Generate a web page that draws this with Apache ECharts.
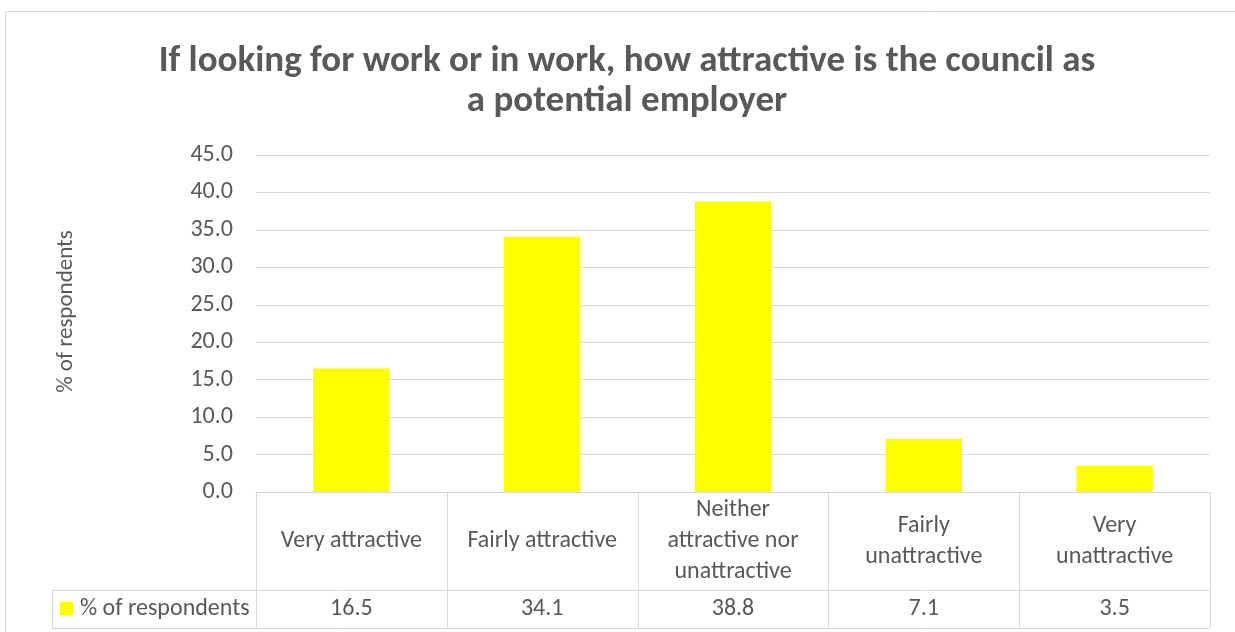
<!DOCTYPE html>
<html>
<head>
<meta charset="utf-8">
<script src="https://cdn.jsdelivr.net/npm/echarts@6/dist/echarts.min.js"></script>
<style>
  html, body { margin: 0; padding: 0; background: #ffffff; }
  #chart { width: 1235px; height: 632px; }
</style>
</head>
<body>
<div id="chart"></div>
<script>
// Survey answers and share of respondents for each
const categories = [
  'Very attractive',
  'Fairly attractive',
  'Neither\nattractive nor\nunattractive',
  'Fairly\nunattractive',
  'Very\nunattractive'
];
const respondents = [16.5, 34.1, 38.8, 7.1, 3.5];
const seriesName = '% of respondents';
const titleText = 'If looking for work or in work, how attractive is the council as\na potential employer';
const yTicks = { min: 0, max: 45, interval: 5 };

const FONT = "Carlito, 'Open Sans', 'Noto Sans', sans-serif";
const TEXT = '#595959';
const LINE = '#d9d9d9';
const BAR = '#ffff00';

const chart = echarts.init(document.getElementById('chart'), null, { renderer: 'canvas' });

const option = {
  animation: false,
  backgroundColor: '#ffffff',
  title: {
    text: titleText,
    left: 622,
    top: 37,
    textAlign: 'center',
    textStyle: {
      fontFamily: FONT,
      fontWeight: 'bold',
      fontSize: 37,
      lineHeight: 40,
      color: TEXT
    }
  },
  grid: { left: 256, right: 25, top: 155, bottom: 140, containLabel: false },
  xAxis: {
    type: 'category',
    data: categories,
    axisLine: { show: true, lineStyle: { color: LINE, width: 1 } },
    axisTick: { show: false },
    axisLabel: {
      interval: 0,
      margin: 49,
      verticalAlign: 'middle',
      fontFamily: FONT,
      fontSize: 24,
      lineHeight: 31,
      color: TEXT
    }
  },
  yAxis: {
    type: 'value',
    min: yTicks.min,
    max: yTicks.max,
    interval: yTicks.interval,
    name: seriesName,
    nameLocation: 'middle',
    nameGap: 178,
    nameRotate: 90,
    nameTextStyle: { fontFamily: FONT, fontSize: 23, color: TEXT, padding: [0, 0, 0, 24] },
    axisLine: { show: false },
    axisTick: { show: false },
    axisLabel: {
      margin: 23,
      fontFamily: FONT,
      fontSize: 24,
      color: TEXT,
      formatter: v => v.toFixed(1)
    },
    splitLine: { lineStyle: { color: LINE, width: 1 } }
  },
  series: [{
    name: seriesName,
    type: 'bar',
    data: respondents,
    barCategoryGap: '60%',
    itemStyle: { color: BAR }
  }]
};
chart.setOption(option);

// Data table under the plot: column borders follow the category axis
function drawTable() {
  const centers = categories.map((_, i) => chart.convertToPixel({ xAxisIndex: 0 }, i));
  const step = centers[1] - centers[0];
  const edges = [centers[0] - step / 2].concat(centers.map(c => c + step / 2));
  const yTop = chart.convertToPixel({ yAxisIndex: 0 }, 0);
  const headerH = 98, rowH = 38;
  const yMid = yTop + headerH, yBot = yMid + rowH;
  const legendLeft = 52;
  const right = edges[edges.length - 1];
  const ls = { stroke: LINE, lineWidth: 1 };
  const els = [];
  const line = (x1, y1, x2, y2) => els.push({
    type: 'line', silent: true,
    shape: { x1, y1, x2, y2 }, style: ls
  });
  // chart frame
  els.push({ type: 'rect', silent: true, shape: { x: 5.5, y: 11.5, width: 1240, height: 640 },
    style: { fill: null, stroke: LINE, lineWidth: 1 } });
  edges.forEach(x => line(Math.round(x) + 0.5, yTop, Math.round(x) + 0.5, yBot));
  line(legendLeft + 0.5, yMid, legendLeft + 0.5, yBot);
  line(legendLeft, Math.round(yMid) + 0.5, right, Math.round(yMid) + 0.5);
  line(legendLeft, Math.round(yBot) + 0.5, right, Math.round(yBot) + 0.5);
  // legend key inside the table
  els.push({ type: 'rect', silent: true, shape: { x: 60, y: yMid + 12, width: 13, height: 13 },
    style: { fill: BAR } });
  els.push({ type: 'text', silent: true, x: 80, y: yMid + rowH / 2,
    style: { text: seriesName, font: `24px ${FONT}`, fill: TEXT, verticalAlign: 'middle', align: 'left' } });
  respondents.forEach((v, i) => els.push({
    type: 'text', silent: true, x: centers[i], y: yMid + rowH / 2,
    style: { text: v.toFixed(1), font: `24px ${FONT}`, fill: TEXT, align: 'center', verticalAlign: 'middle' }
  }));
  chart.setOption({ graphic: { elements: els } });
}
drawTable();
</script>
</body>
</html>
